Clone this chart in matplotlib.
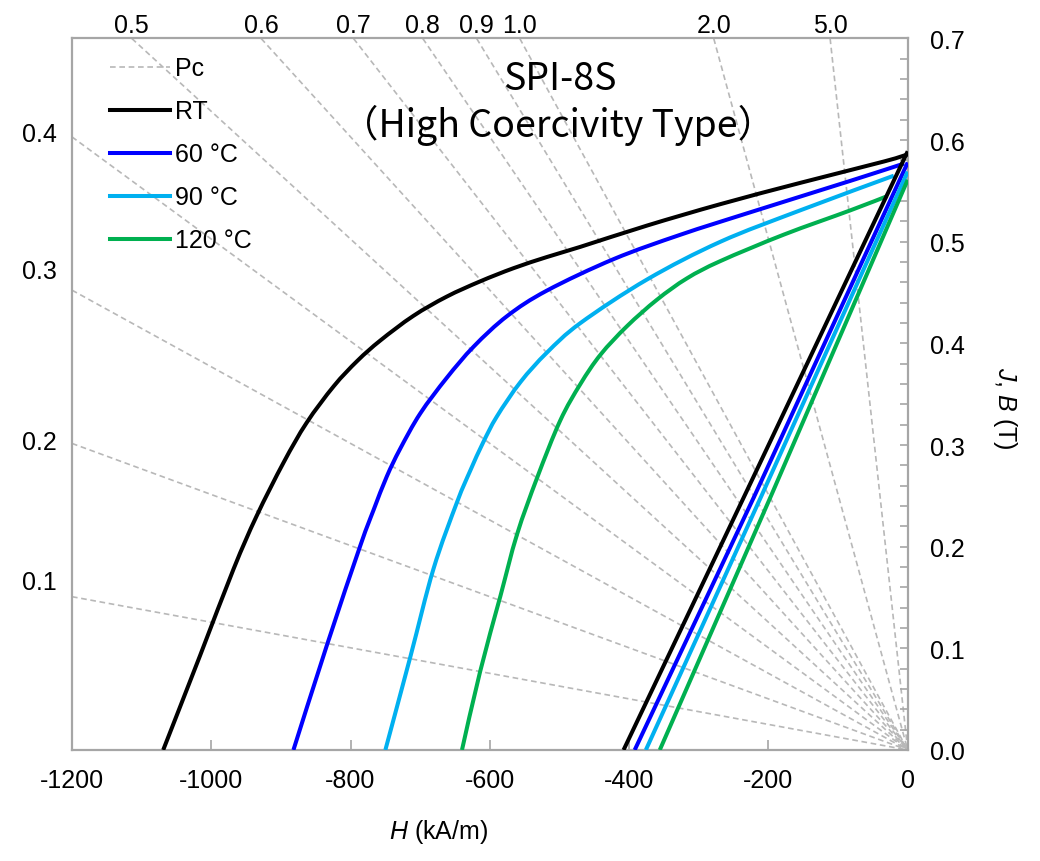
import numpy as np
import matplotlib
matplotlib.use("Agg")
import matplotlib.pyplot as plt
from matplotlib.lines import Line2D
from matplotlib.path import Path
from matplotlib.patches import PathPatch

plt.rcParams['font.family'] = ['Liberation Sans', 'DejaVu Sans']
plt.rcParams['mathtext.fontset'] = 'custom'
plt.rcParams['mathtext.rm'] = 'Liberation Sans'
plt.rcParams['mathtext.it'] = 'Liberation Sans:italic'

# ---------------- data ----------------
labels = ["RT", "60 °C", "90 °C", "120 °C"]
colors = ["#000000", "#0000FF", "#00B0F0", "#00B050"]

# intrinsic J-H curves (H in kA/m, J in T)
H_rt = [-1069, -1016, -968, -935, -896, -863, -824, -790, -757, -710, -662, -614, -566, -518, -470,
        -374, -269, -154, -34, 0]
J_rt = [0.000, 0.093, 0.178, 0.230, 0.283, 0.322, 0.358, 0.383, 0.403, 0.427, 0.446, 0.461, 0.474, 0.485, 0.495,
        0.516, 0.537, 0.558, 0.579, 0.586]

H_60 = [-882, -834, -786, -767, -748, -729, -700, -662, -623, -575, -518, -422, -326, -226, -82, -5]
J_60 = [0.000, 0.103, 0.201, 0.236, 0.269, 0.296, 0.331, 0.366, 0.397, 0.427, 0.452, 0.483, 0.507, 0.529,
        0.560, 0.577]

H_90 = [-750, -714, -681, -647, -628, -610, -590, -556, -518, -470, -374, -269, -154, -20]
J_90 = [0.000, 0.092, 0.178, 0.244, 0.275, 0.302, 0.328, 0.362, 0.391, 0.420, 0.463, 0.500, 0.531, 0.565]

H_120 = [-640, -614, -585, -561, -532, -499, -470, -441, -403, -360, -317, -269, -178, -82, -29]
J_120 = [0.000, 0.077, 0.151, 0.212, 0.268, 0.324, 0.360, 0.389, 0.417, 0.443, 0.464, 0.481, 0.507, 0.531,
         0.545]

# normal B-H lines
HB_rt = [-408, -233, 0]
B_rt = [0.000, 0.252, 0.589]
HB_60 = [-392, -220, 0]
B_60 = [0.000, 0.250, 0.578]
HB_90 = [-376, -210, 0]
B_90 = [0.000, 0.250, 0.569]
HB_120 = [-356, -195, 0]
B_120 = [0.000, 0.252, 0.561]

J_curves = [(H_rt, J_rt), (H_60, J_60), (H_90, J_90), (H_120, J_120)]
B_curves = [(HB_rt, B_rt), (HB_60, B_60), (HB_90, B_90), (HB_120, B_120)]

# permeance coefficient lines
pc_values = [0.1, 0.2, 0.3, 0.4, 0.5, 0.6, 0.7, 0.8, 0.9, 1.0, 2.0, 5.0]
pc_left_labels = ["0.1", "0.2", "0.3", "0.4"]
pc_left_label_y = [0.165, 0.303, 0.471, 0.606]
pc_top_labels = ["0.5", "0.6", "0.7", "0.8", "0.9", "1.0", "2.0", "5.0"]
pc_top_values = [0.5, 0.6, 0.7, 0.8, 0.9, 1.0, 2.0, 5.0]
MU0 = 4 * np.pi * 1e-7 * 1e3  # T per kA/m

x_ticks = [-1200, -1000, -800, -600, -400, -200, 0]
y_ticks = [0.0, 0.1, 0.2, 0.3, 0.4, 0.5, 0.6, 0.7]


def smooth_path(xs, ys):
    """Smoothed (Catmull-Rom style Bezier) path through the given points, like a spreadsheet 'smoothed line'."""
    p = np.column_stack([xs, ys]).astype(float)
    verts = [p[0]]
    codes = [Path.MOVETO]
    n = len(p)
    for i in range(n - 1):
        p0 = p[i - 1] if i > 0 else p[i]
        p1, p2 = p[i], p[i + 1]
        p3 = p[i + 2] if i + 2 < n else p[i + 1]
        c1 = p1 + (p2 - p0) / 6.0
        c2 = p2 - (p3 - p1) / 6.0
        verts += [c1, c2, p2]
        codes += [Path.CURVE4] * 3
    return Path(verts, codes)


# ---------------- figure ----------------
fig = plt.figure(figsize=(10.4, 8.62), dpi=100)
ax = fig.add_axes([0.0692, 0.1288, 0.8036, 0.8254])
ax.set_xlim(-1200, 0)
ax.set_ylim(0, 0.7)

grey = "#A6A6A6"
pc_color = "#B8B8B8"
pc_style = (0, (3.4, 2.2))
for pc in pc_values:
    ax.axline((0, 0), slope=-pc * MU0, color=pc_color, lw=1.2,
              linestyle=pc_style, zorder=1)

for (h, j), c in zip(J_curves, colors):
    ax.add_patch(PathPatch(smooth_path(h, j), facecolor='none', edgecolor=c, lw=2.9,
                           joinstyle='round', capstyle='butt', zorder=3))
for (h, b), c in zip(B_curves, colors):
    ax.plot(h, b, color=c, lw=2.9, zorder=3, solid_joinstyle='round', solid_capstyle='butt')

# spines / ticks
for s in ax.spines.values():
    s.set_color(grey)
    s.set_linewidth(1.6)
ax.yaxis.tick_right()
ax.set_xticks(x_ticks)
ax.set_xticklabels([str(v) for v in x_ticks])
ax.set_yticks(y_ticks)
ax.set_yticklabels([f"{v:.1f}" for v in y_ticks])
ax.set_yticks(np.arange(0, 0.7001, 0.02), minor=True)
ax.tick_params(axis='both', which='both', direction='in', colors=grey,
               labelcolor='black', labelsize=18, width=1.2)
ax.tick_params(axis='x', which='major', length=7, pad=13)
ax.tick_params(axis='y', which='major', length=6, pad=16)
ax.tick_params(axis='y', which='minor', length=6)
ax.tick_params(axis='x', which='minor', length=0)

# Pc labels
for lab, yv in zip(pc_left_labels, pc_left_label_y):
    ax.annotate(lab, xy=(-1200, yv), xytext=(-11, 0), textcoords='offset points',
                ha='right', va='center', fontsize=18, annotation_clip=False)
for lab, pc in zip(pc_top_labels, pc_top_values):
    ax.annotate(lab, xy=(-0.7 / (pc * MU0), 0.7), xytext=(0, 5), textcoords='offset points',
                ha='center', va='baseline', fontsize=18, annotation_clip=False)

# axis labels
fig.text(439 / 1040, 1 - 832 / 862, "$\\it{H}$ (kA/m)", ha='center', va='center', fontsize=18)
fig.text(1005 / 1040, 1 - 408 / 862, "$\\it{J}$, $\\it{B}$ (T)", ha='center', va='center',
         fontsize=18, rotation=-90)

# title
cjk = ['Noto Sans CJK JP', 'DejaVu Sans']
fig.text(560 / 1040, 1 - 79 / 862, "SPI-8S", ha='center', va='center', fontsize=27, family=cjk)
fig.text(558 / 1040, 1 - 125 / 862, "（High Coercivity Type）", ha='center', va='center',
         fontsize=27, family=cjk)

# legend
handles = [Line2D([], [], color=pc_color, lw=1.2, linestyle=pc_style)]
handles += [Line2D([], [], color=c, lw=2.9) for c in colors]
leg = ax.legend(handles, ["Pc"] + labels, loc='upper left', bbox_to_anchor=(0.0455, 0.975),
                frameon=False, fontsize=18, handlelength=2.4, handletextpad=0.2,
                labelspacing=0.76, borderpad=0, borderaxespad=0)

fig.savefig("out.png", dpi=100)
